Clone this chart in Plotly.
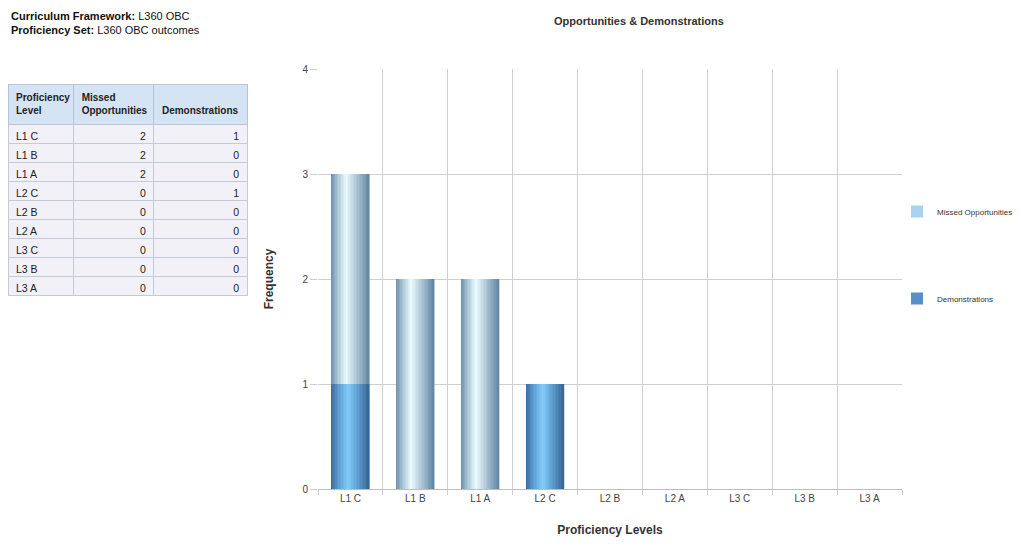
import plotly.graph_objects as go

levels = ["L1 C", "L1 B", "L1 A", "L2 C", "L2 B", "L2 A", "L3 C", "L3 B", "L3 A"]
missed = [2, 2, 2, 0, 0, 0, 0, 0, 0]
demos = [1, 0, 0, 1, 0, 0, 0, 0, 0]
y_ticks = [0, 1, 2, 3, 4]

# page offset of the figure (browser body margin)
OFF = 8
W, H = 1023 - OFF, 559 - OFF
FONT = "Liberation Sans, Arial, sans-serif"


def px(x):
    return (x - OFF) / W


def py(y):
    return 1 - (y - OFF) / H


def hx(c):
    c = c.lstrip("#")
    return [int(c[i:i + 2], 16) for i in (0, 2, 4)]


def interp(stops, t):
    for (t0, c0), (t1, c1) in zip(stops, stops[1:]):
        if t0 <= t <= t1:
            f = (t - t0) / (t1 - t0) if t1 > t0 else 0
            a, b = hx(c0), hx(c1)
            return "rgb(%d,%d,%d)" % tuple(round(a[k] + (b[k] - a[k]) * f) for k in range(3))
    return stops[-1][1]


missed_stops = [(0, "#6a8ca8"), (0.18, "#a9c7d6"), (0.4, "#ecfbff"), (0.7, "#a6c0d2"), (1, "#6485a2")]
demos_stops = [(0, "#3a6a99"), (0.2, "#5b9dd0"), (0.45, "#82cdf9"), (0.75, "#5896c8"), (1, "#386490")]

fig = go.Figure()
BW = 0.585
N = 26

series = [
    ("Missed Opportunities", missed, demos, "#a9d3f1", missed_stops),
    ("Demonstrations", demos, [0] * len(demos), "#5a8fc6", demos_stops),
]

for name, vals, base, lc, stops in series:
    fig.add_trace(go.Bar(x=levels, y=vals, base=base, name=name, width=BW,
                         offset=-BW / 2, marker=dict(color=lc, line=dict(width=0)),
                         legendgroup=name, showlegend=True, hoverinfo="skip"))
    sw = BW / N
    for i in range(N):
        t = (i + 0.5) / N
        fig.add_trace(go.Bar(x=levels, y=vals, base=base, width=sw * 1.05,
                             offset=-BW / 2 + i * sw,
                             marker=dict(color=interp(stops, t), line=dict(width=0)),
                             legendgroup=name, showlegend=False, hoverinfo="skip"))

# table
fig.add_trace(go.Table(
    domain=dict(x=[0, px(247)], y=[py(300), py(84)]),
    columnwidth=[67, 82, 95],
    header=dict(values=["<b>Proficiency<br>Level</b>", "<b>Missed<br>Opportunities</b>",
                        "\u00a0<br><b>Demonstrations</b>"],
                fill_color="#d5e4f5", line_color="#b9c6d9", align="left", height=33,
                font=dict(family=FONT, size=10, color="#222")),
    cells=dict(values=[levels, missed, demos],
               fill_color="#f1f1f7", line_color="#c3cbdb",
               align=["left", "right", "right"], height=19,
               font=dict(family=FONT, size=10.5, color="#222")),
))

fig.update_layout(
    width=W, height=H, margin=dict(l=0, r=0, t=0, b=0, autoexpand=False),
    paper_bgcolor="white", plot_bgcolor="white",
    barmode="overlay",
    font=dict(family=FONT, size=10, color="#444"),
    xaxis=dict(domain=[px(318), px(902)], type="category", tickson="boundaries", showgrid=True,
               gridcolor="#cfcfcf", ticks="outside", ticklen=5, tickcolor="#cfcfcf",
               showline=True, linecolor="#bdbdbd", tickfont=dict(size=10, color="#444"),
               title=dict(text="<b>Proficiency Levels</b>", font=dict(size=12, color="#333"), standoff=22),
               fixedrange=True, automargin=False),
    yaxis=dict(domain=[py(489), py(69)], range=[0, 4], tickvals=y_ticks, showgrid=True, gridcolor="#cfcfcf",
               ticks="outside", ticklen=7, tickcolor="#cfcfcf", zeroline=False,
               tickfont=dict(size=10, color="#444"), automargin=False,
               title=dict(text="<b>Frequency</b>", font=dict(size=12, color="#333"), standoff=26)),
    legend=dict(x=px(897), y=py(197), xanchor="left", yanchor="top", traceorder="grouped",
                tracegroupgap=68, font=dict(size=8, color="#333"), bgcolor="rgba(0,0,0,0)",
                itemwidth=30),
    showlegend=True,
    annotations=[
        dict(text="<b>Curriculum Framework:</b> L360 OBC", x=px(9), y=py(16), xref="paper", yref="paper",
             xanchor="left", yanchor="middle", showarrow=False, font=dict(size=11, color="#111")),
        dict(text="<b>Proficiency Set:</b> L360 OBC outcomes", x=px(9), y=py(30), xref="paper", yref="paper",
             xanchor="left", yanchor="middle", showarrow=False, font=dict(size=11, color="#111")),
        dict(text="<b>Opportunities & Demonstrations</b>", x=px(639), y=py(21), xref="paper", yref="paper",
             xanchor="center", yanchor="middle", showarrow=False, font=dict(size=11, color="#333")),
    ],
)

fig.write_html("out.html")
